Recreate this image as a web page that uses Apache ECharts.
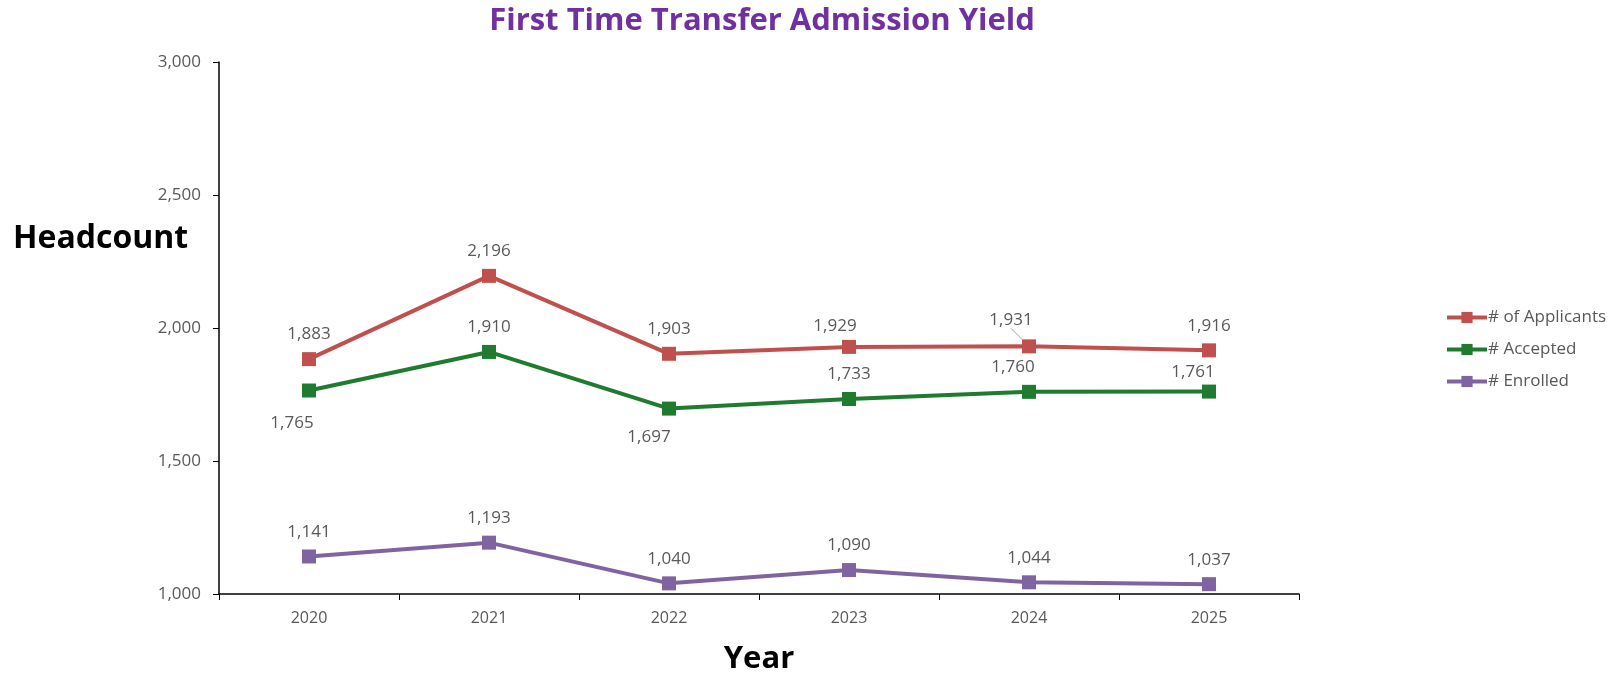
<!DOCTYPE html>
<html><head><meta charset="utf-8">
<script src="https://cdn.jsdelivr.net/npm/echarts@6/dist/echarts.min.js"></script>
<style>html,body{margin:0;padding:0;background:#fff}#c{width:1614px;height:676px}</style>
</head><body><div id="c"></div>
<script>
const years = ['2020','2021','2022','2023','2024','2025'];
const applicants = [1883, 2196, 1903, 1929, 1931, 1916];
const accepted = [1765, 1910, 1697, 1733, 1760, 1761];
const enrolled = [1141, 1193, 1040, 1090, 1044, 1037];
const yTicks = {min: 1000, max: 3000, interval: 500};

const fmt = v => v.toLocaleString('en-US');
const font = '"Open Sans", "Noto Sans", sans-serif';
const labelStyle = {show: true, fontFamily: font, fontSize: 17, color: '#595959', formatter: p => fmt(p.value)};

const chart = echarts.init(document.getElementById('c'));
chart.setOption({
  animation: false,
  title: {text: 'First Time Transfer Admission Yield', left: 757, top: 1, textAlign: 'center',
    textStyle: {fontFamily: font, fontWeight: 'bold', fontSize: 31, color: '#7030A0'}},
  grid: {left: 219, right: 315, top: 62, bottom: 82, outerBoundsMode: 'none', containLabel: false},
  legend: {orient: 'vertical', left: 1440, top: 304, itemGap: 15, itemWidth: 40, itemHeight: 14,
    lineStyle: {width: 4},
    textStyle: {fontFamily: font, fontSize: 17, color: '#595959', padding: [0,0,0,-4]},
    data: ['# of Applicants', '# Accepted', '# Enrolled']},
  xAxis: {type: 'category', data: years, boundaryGap: true,
    name: 'Year', nameLocation: 'middle', nameGap: 50,
    nameTextStyle: {fontFamily: font, fontWeight: 'bold', fontSize: 31, color: '#000'},
    axisLine: {lineStyle: {color: '#000', width: 1.5}},
    axisTick: {show: true, alignWithLabel: false, length: 6, lineStyle: {color: '#000'}},
    axisLabel: {fontFamily: font, fontSize: 16, color: '#595959', margin: 16}},
  yAxis: {type: 'value', min: yTicks.min, max: yTicks.max, interval: yTicks.interval,
    axisLine: {show: true, lineStyle: {color: '#000', width: 1.5}},
    axisTick: {show: true, length: 6, lineStyle: {color: '#000'}},
    splitLine: {show: false},
    axisLabel: {fontFamily: font, fontSize: 17, color: '#595959', margin: 18, formatter: v => fmt(v)}},
  graphic: [{type: 'text', left: 13, top: 223,
    style: {text: 'Headcount', fontFamily: font, fontWeight: 'bold', fontSize: 32, fill: '#000'}}],
  series: [
    {name: '# of Applicants', type: 'line', symbol: 'rect', symbolSize: 14,
      data: applicants.map((v, i) => i === 4 ? {value: v, labelLine: {show: true}} : v),
      lineStyle: {width: 4, color: '#C0504D'}, itemStyle: {color: '#C0504D'},
      label: Object.assign({}, labelStyle, {position: 'top', distance: 9}),
      labelLine: {show: false, lineStyle: {color: '#A6A6A6', width: 1}},
      labelLayout: p => p.dataIndex === 3 ? {dx: -14, dy: 4} : p.dataIndex === 4 ? {dx: -18, dy: -2} : {}},
    {name: '# Accepted', type: 'line', data: accepted, symbol: 'rect', symbolSize: 14,
      lineStyle: {width: 4, color: '#1E7B30'}, itemStyle: {color: '#1E7B30'},
      label: Object.assign({}, labelStyle, {position: 'top', distance: 9}),
      labelLayout: p => p.dataIndex === 0 ? {dx: -17, dy: 57}
        : p.dataIndex === 2 ? {dx: -20, dy: 53}
        : p.dataIndex === 4 ? {dx: -16, dy: 0}
        : p.dataIndex === 5 ? {dx: -16, dy: 5} : {}},
    {name: '# Enrolled', type: 'line', data: enrolled, symbol: 'rect', symbolSize: 14,
      lineStyle: {width: 4, color: '#8064A2'}, itemStyle: {color: '#8064A2'},
      label: Object.assign({}, labelStyle, {position: 'top', distance: 9})}
  ]
});
</script></body></html>
